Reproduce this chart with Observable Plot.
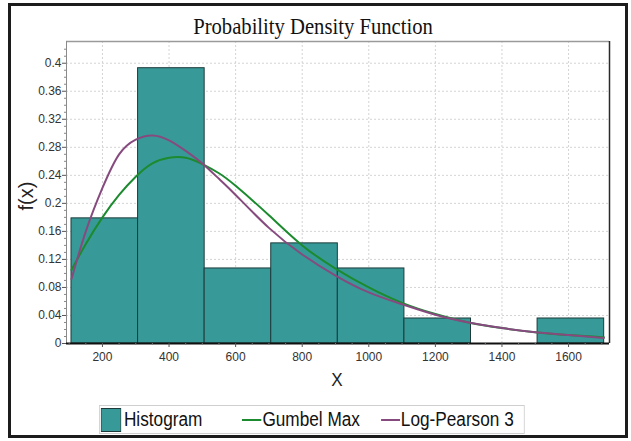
<!DOCTYPE html>
<html><head><meta charset="utf-8">
<script src="https://cdn.jsdelivr.net/npm/d3@7"></script>
<script src="https://cdn.jsdelivr.net/npm/@observablehq/plot@0.6"></script>
<style>
html,body{margin:0;padding:0;background:#fff;}
#page{position:relative;width:631px;height:441px;overflow:hidden;font-family:"Liberation Sans",Arial,sans-serif;}
#frame{position:absolute;left:8px;top:3px;width:614px;height:429px;border:3px solid #1c1c1c;pointer-events:none;}
#title{position:absolute;left:0;top:14px;width:626px;text-align:center;font-family:"Liberation Serif","Times New Roman",serif;font-size:24px;line-height:24px;color:#111;transform:scaleX(0.86);transform-origin:313px 0;}
#chart{position:absolute;left:0;top:0;}
#ylab{position:absolute;left:26px;top:196px;font-size:20px;line-height:20px;color:#222;transform:translate(-50%,-50%) rotate(-90deg);white-space:nowrap;}
#xlab{position:absolute;left:337px;top:379px;font-size:19px;line-height:19px;color:#222;transform:translate(-50%,-50%) scaleX(0.9);}
#legend{position:absolute;left:99px;top:405px;width:495px;height:29px;border:1px solid #cfcfcf;box-sizing:border-box;transform:scaleX(0.86);transform-origin:0 0;font-size:20px;color:#111;}
#legend .it{position:absolute;top:0;height:27px;line-height:27px;white-space:nowrap;}
#legend .sw{position:absolute;}
</style></head>
<body><div id="page">
<div id="chart"></div>
<div id="title">Probability Density Function</div>
<div id="ylab">f(x)</div>
<div id="xlab">X</div>
<div id="legend"></div>
<div id="frame"></div>
</div>
<script>
// ---- data ----
const binStart = [107, 307, 507, 707, 907, 1107, 1307, 1507];
const binEnd   = [307, 507, 707, 907, 1107, 1307, 1507, 1707];
const density  = [0.1786, 0.3929, 0.1071, 0.1429, 0.1071, 0.0357, 0, 0.0357];

const curveX     = [107, 150, 200, 250, 300, 350, 400, 450, 500, 550, 600, 700, 800, 900, 1000, 1100, 1200, 1300, 1400, 1500, 1600, 1706];
const gumbelMax  = [0.105, 0.142, 0.180, 0.212, 0.238, 0.257, 0.265, 0.265, 0.256, 0.243, 0.225, 0.183, 0.140, 0.107, 0.080, 0.058, 0.042, 0.030, 0.022, 0.016, 0.012, 0.009];
const logPearson = [0.092, 0.160, 0.222, 0.270, 0.291, 0.297, 0.290, 0.275, 0.257, 0.235, 0.212, 0.165, 0.127, 0.097, 0.073, 0.056, 0.041, 0.030, 0.022, 0.016, 0.012, 0.008];

const xTicks = [200, 400, 600, 800, 1000, 1200, 1400, 1600];
const yTicks = [0, 0.04, 0.08, 0.12, 0.16, 0.2, 0.24, 0.28, 0.32, 0.36, 0.4];
const xDomain = [92, 1723];
const yDomain = [0, 0.431];

const legendLabels = ["Histogram", "Gumbel Max", "Log-Pearson 3"];
const colors = {bar: "#379a98", barStroke: "#1d3b3b", gumbel: "#1c8a2e", lp3: "#874a7f"};

// ---- build tables ----
const bars = binStart.map((s, i) => ({x1: s, x2: binEnd[i], y: density[i]}));
const curves = curveX.map((x, i) => ({x, g: gumbelMax[i], l: logPearson[i]}));
const xMinor = d3.range(100, 1701, 50).filter(v => !xTicks.includes(v));
const yMinor = d3.range(0, 0.43, 0.01).map(v => +v.toFixed(2)).filter(v => !yTicks.includes(v));

const chart = Plot.plot({
  width: 631, height: 400,
  marginLeft: 66, marginRight: 22, marginTop: 41, marginBottom: 57,
  style: {fontFamily: "'Liberation Sans', Arial, sans-serif", fontSize: "12px", color: "#333", background: "transparent"},
  x: {domain: xDomain},
  y: {domain: yDomain},
  marks: [
    Plot.gridX(xTicks, {stroke: "#d4d4d4", strokeOpacity: 1, strokeDasharray: "2,2"}),
    Plot.gridY(yTicks.slice(1), {stroke: "#d4d4d4", strokeOpacity: 1, strokeDasharray: "2,2"}),
    Plot.ruleY([yDomain[1]], {stroke: "#9a9a9a", strokeWidth: 1.5}),
    Plot.ruleX([xDomain[1]], {stroke: "#2a2a2a", strokeWidth: 1.5}),
    Plot.ruleX([xDomain[0]], {stroke: "#8a8a8a", strokeWidth: 1}),
    Plot.rectY(bars, {x1: "x1", x2: "x2", y: "y", fill: colors.bar, stroke: colors.barStroke, strokeWidth: 1}),
    Plot.line(curves, {x: "x", y: "g", stroke: colors.gumbel, strokeWidth: 2, curve: "natural"}),
    Plot.line(curves, {x: "x", y: "l", stroke: colors.lp3, strokeWidth: 2, curve: "natural"}),
    Plot.ruleY([0], {stroke: "#111", strokeWidth: 2}),
    Plot.axisX(xTicks, {tickSize: 4, tickPadding: 5, stroke: "#555", fill: "#333", label: null, tickFormat: d => String(d)}),
    Plot.axisX(xMinor, {tickSize: 2, stroke: "#777", label: null, tickFormat: () => ""}),
    Plot.axisY(yTicks, {tickSize: 4, tickPadding: 1, stroke: "#555", fill: "#333", label: null, tickFormat: d => String(d)}),
    Plot.axisY(yMinor, {tickSize: 2, stroke: "#888", label: null, tickFormat: () => ""})
  ]
});
document.getElementById("chart").appendChild(chart);

// ---- legend ----
const lg = document.getElementById("legend");
const items = [
  {sw: `<svg class="sw" style="left:1px;top:2px" width="24" height="24"><rect x="0.5" y="0.5" width="23" height="23" fill="${colors.bar}" stroke="${colors.barStroke}"/></svg>`, label: legendLabels[0], tx: 28},
  {sw: `<svg class="sw" style="left:165px;top:0" width="23" height="27"><line x1="0" x2="23" y1="14" y2="14" stroke="${colors.gumbel}" stroke-width="2"/></svg>`, label: legendLabels[1], tx: 189},
  {sw: `<svg class="sw" style="left:327px;top:0" width="22" height="27"><line x1="0" x2="22" y1="14" y2="14" stroke="${colors.lp3}" stroke-width="2"/></svg>`, label: legendLabels[2], tx: 350}
];
lg.innerHTML = items.map(it => it.sw + `<span class="it" style="left:${it.tx}px">${it.label}</span>`).join("");
</script>
</body></html>
